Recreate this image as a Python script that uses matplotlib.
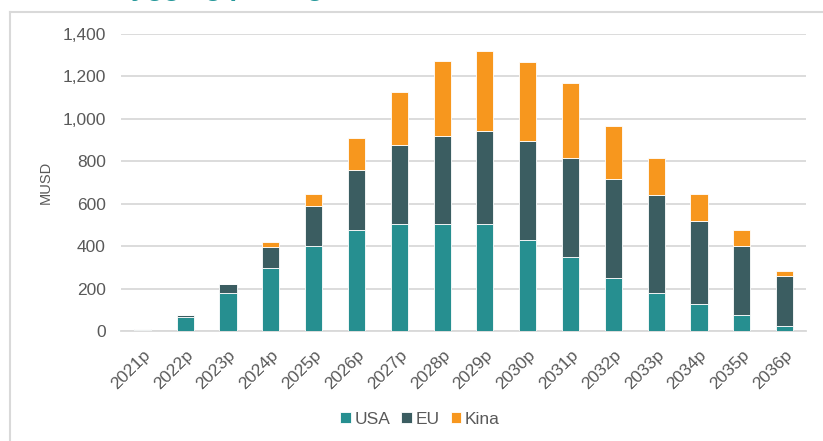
import numpy as np
import matplotlib.pyplot as plt
from matplotlib.lines import Line2D
from matplotlib.ticker import FuncFormatter

plt.rcParams['font.family'] = ['Liberation Sans', 'DejaVu Sans']

# data (MUSD)
years = ['2021p', '2022p', '2023p', '2024p', '2025p', '2026p', '2027p', '2028p',
         '2029p', '2030p', '2031p', '2032p', '2033p', '2034p', '2035p', '2036p']
usa = [5, 67, 177, 298, 399, 476, 503, 503, 503, 427, 348, 249, 177, 126, 74, 24]
eu = [3, 8, 45, 96, 190, 282, 372, 417, 441, 467, 467, 467, 462, 394, 325, 234]
kina = [0, 0, 0, 24, 59, 150, 250, 354, 375, 375, 353, 249, 175, 127, 77, 23]
series_names = ['USA', 'EU', 'Kina']
colors = ['#268F90', '#3B5D61', '#F7971E']

W, H = 823, 441
fig = plt.figure(figsize=(W / 100, H / 100), dpi=100)
ax = fig.add_axes([121 / W, (H - 331) / H, (806 - 121) / W, (331 - 34) / H])

x = np.arange(len(years))
bottom = np.zeros(len(years))
for vals, name, c in zip([usa, eu, kina], series_names, colors):
    ax.bar(x, vals, width=0.4, bottom=bottom, color=c, label=name,
           edgecolor='white', linewidth=0.6, zorder=3)
    bottom += np.array(vals)

ax.set_xlim(-0.5, len(years) - 0.5)
ax.set_ylim(0, 1400)
ax.set_yticks(range(0, 1401, 200))
ax.yaxis.set_major_formatter(FuncFormatter(lambda v, p: f'{int(v):,}'))
ax.set_xticks(x)
ax.set_xticklabels(years, rotation=45, ha='right', rotation_mode='anchor')
ax.grid(axis='y', color='#D9D9D9', linewidth=1.3, zorder=0)
for s in ['top', 'right', 'left']:
    ax.spines[s].set_visible(False)
ax.spines['bottom'].set_color('#D9D9D9')
ax.spines['bottom'].set_linewidth(1.3)
ax.tick_params(axis='both', length=0, labelsize=12.5, colors='#595959')
ax.tick_params(axis='y', pad=11)
ax.tick_params(axis='x', pad=12)
ax.set_ylabel('MUSD', fontsize=10.5, color='#595959', labelpad=7)

ax.legend(loc='center', bbox_to_anchor=(420 / W, (H - 419) / H),
          bbox_transform=fig.transFigure, ncol=3, frameon=False,
          fontsize=12.5, labelcolor='#595959', handlelength=0.6, handleheight=0.6,
          handletextpad=0.2, columnspacing=0.65)

# ramme rundt diagrammet
fig.add_artist(Line2D([10 / W, 10 / W], [0, (H - 12) / H], color='#D9D9D9', lw=1.5))
fig.add_artist(Line2D([10 / W, 1], [(H - 12) / H, (H - 12) / H], color='#D9D9D9', lw=1.5))

# avkuttet tittel over rammen
fig.text(85 / W, 1 + 5 / H, 'Utbygging per region', color='#26989A',
         fontsize=20, fontweight='bold', va='baseline', ha='left')

fig.savefig('out.png', dpi=100)
